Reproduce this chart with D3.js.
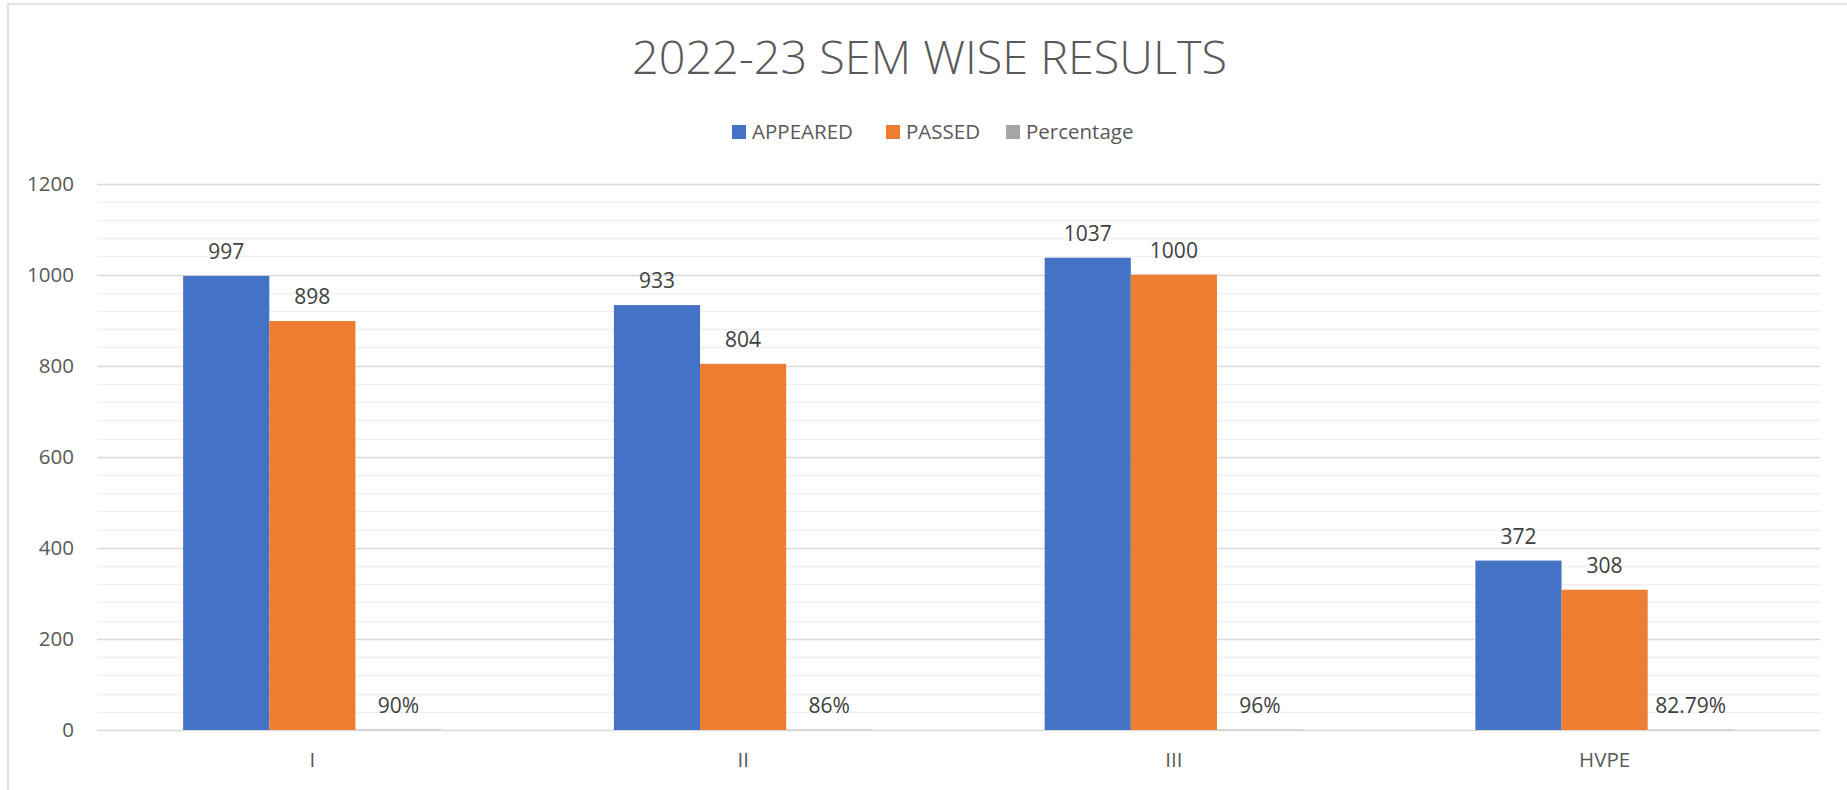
<!DOCTYPE html>
<html>
<head>
<meta charset="utf-8">
<script src="https://cdn.jsdelivr.net/npm/d3@7/dist/d3.min.js"></script>
<style>
  html, body { margin: 0; padding: 0; background: #fff; }
  svg { display: block; }
  text { font-family: "Open Sans", "Liberation Sans", sans-serif; }
</style>
</head>
<body>
<svg id="chart" width="1847" height="790"></svg>
<script>
// ---- data ----
const categories = ["I", "II", "III", "HVPE"];
const seriesNames = ["APPEARED", "PASSED", "Percentage"];
const appeared = [997, 933, 1037, 372];
const passed = [898, 804, 1000, 308];
const percentage = [0.90, 0.86, 0.96, 0.8279];
const yTickValues = [0, 200, 400, 600, 800, 1000, 1200];
const titleText = "2022-23 SEM WISE RESULTS";

const colors = ["#4472C4", "#ED7D31", "#A5A5A5"];
const seriesValues = [appeared, passed, percentage];

const W = 1847, H = 790;
const margin = { left: 97, right: 27, top: 183.5, bottom: 60 };
const svg = d3.select("#chart");

// chart frame
svg.append("rect")
  .attr("x", 8).attr("y", 4).attr("width", 1900).attr("height", 900)
  .attr("fill", "none").attr("stroke", "#d9d9d9").attr("stroke-width", 1.5);

const x0 = d3.scaleBand().domain(categories).range([margin.left, W - margin.right]).padding(0);
const gapRatio = 2; // gap width 200%
const barW = x0.bandwidth() / (seriesNames.length + gapRatio);
const x1 = d3.scaleBand().domain(seriesNames)
  .range([barW * gapRatio / 2, x0.bandwidth() - barW * gapRatio / 2]).padding(0);
const y = d3.scaleLinear().domain([0, 1200]).range([730, 183.5]);

// minor gridlines
const minor = d3.range(0, 1200, 40).filter(v => v % 200 !== 0);
svg.append("g").selectAll("line").data(minor).join("line")
  .attr("x1", margin.left).attr("x2", W - margin.right)
  .attr("y1", d => Math.round(y(d)) + 0.5).attr("y2", d => Math.round(y(d)) + 0.5)
  .attr("stroke", "#f0f0f0").attr("stroke-width", 1.5);

// y axis with major gridlines
const yAxis = d3.axisLeft(y).tickValues(yTickValues).tickSize(0).tickPadding(23).tickFormat(d3.format("d"));
const gy = svg.append("g").attr("transform", `translate(${margin.left},0)`).call(yAxis);
gy.select(".domain").remove();
gy.selectAll("text").attr("fill", "#595959").style("font-size", "20.5px")
  .style("font-family", '"Open Sans", "Liberation Sans", sans-serif');
svg.append("g").selectAll("line").data(yTickValues).join("line")
  .attr("x1", margin.left).attr("x2", W - margin.right)
  .attr("y1", d => Math.round(y(d)) + 0.5).attr("y2", d => Math.round(y(d)) + 0.5)
  .attr("stroke", "#d9d9d9").attr("stroke-width", 1.5);

// x axis labels
const xAxis = d3.axisBottom(x0).tickSize(0).tickPadding(22);
const gx = svg.append("g").attr("transform", `translate(0,${y(0)})`).call(xAxis);
gx.select(".domain").remove();
gx.selectAll("text").attr("fill", "#595959").style("font-size", "20.5px")
  .style("font-family", '"Open Sans", "Liberation Sans", sans-serif');

// bars
const fmtPct = v => {
  const p = Math.round(v * 10000) / 100;
  return (Number.isInteger(p) ? p.toFixed(0) : String(p)) + "%";
};
const rows = [];
categories.forEach((c, i) => {
  seriesNames.forEach((s, j) => {
    rows.push({ cat: c, series: s, value: seriesValues[j][i], color: colors[j],
      label: j === 2 ? fmtPct(seriesValues[j][i]) : String(seriesValues[j][i]) });
  });
});

svg.append("g").selectAll("rect").data(rows).join("rect")
  .attr("x", d => x0(d.cat) + x1(d.series))
  .attr("width", x1.bandwidth())
  .attr("y", d => y(d.value))
  .attr("height", d => y(0) - y(d.value))
  .attr("fill", d => d.color);

svg.append("g").selectAll("text").data(rows).join("text")
  .attr("x", d => x0(d.cat) + x1(d.series) + x1.bandwidth() / 2)
  .attr("y", d => y(d.value) - 17)
  .attr("text-anchor", "middle")
  .attr("fill", "#404040")
  .style("font-size", "21px")
  .text(d => d.label);

// title
svg.append("text")
  .attr("x", 929.5).attr("y", 73.5)
  .attr("text-anchor", "middle")
  .attr("fill", "#595959")
  .style("font-size", "46px")
  .style("font-weight", 300)
  .attr("textLength", 595).attr("lengthAdjust", "spacingAndGlyphs")
  .text(titleText);

// legend
const legendX = [732, 886, 1006];
const lg = svg.append("g");
seriesNames.forEach((s, i) => {
  lg.append("rect").attr("x", legendX[i]).attr("y", 125).attr("width", 14).attr("height", 14).attr("fill", colors[i]);
  lg.append("text").attr("x", legendX[i] + 20).attr("y", 139.3)
    .attr("fill", "#595959").style("font-size", "20.5px").text(s);
});
</script>
</body>
</html>
